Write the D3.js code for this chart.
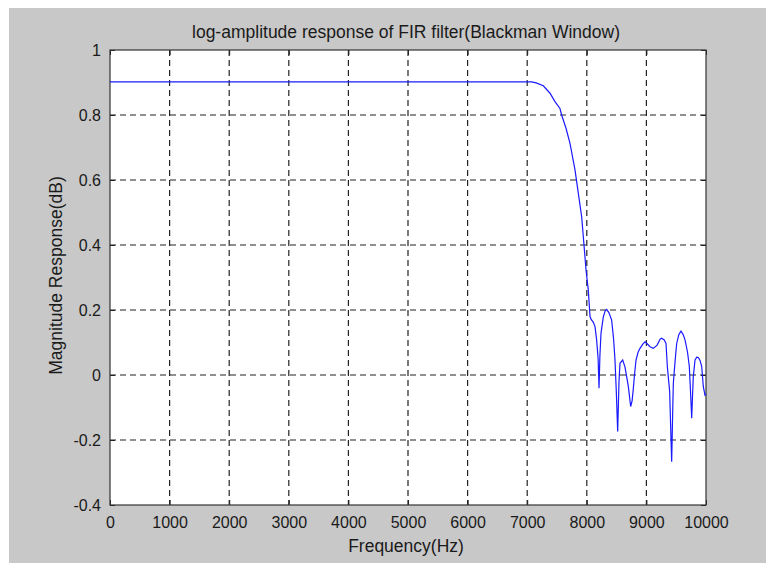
<!DOCTYPE html>
<meta charset="utf-8">
<script src="https://d3js.org/d3.v7.min.js"></script>
<style>
  body { margin: 0; background: #fff; }
  text { font-family: "Liberation Sans", Arial, sans-serif; fill: #1a1a1a; }
</style>
<div id="my_dataviz"></div>

<script>
    // frequency (Hz) and magnitude values
    var freq = [0, 7000, 7074, 7150, 7270, 7383, 7466, 7550, 7578, 7650, 7718, 7802, 7858, 7914, 7953, 7987,
        8025, 8054, 8070, 8110, 8138, 8165, 8190, 8205, 8220, 8238, 8277, 8310, 8333, 8370, 8417, 8450,
        8473, 8495, 8518, 8540, 8557, 8602, 8640, 8669, 8697, 8736, 8760, 8781, 8800, 8826, 8860, 8893,
        8940, 8977, 9010, 9060, 9116, 9180, 9230, 9256, 9300, 9329, 9351, 9390, 9424, 9445, 9452, 9469,
        9490, 9508, 9545, 9580, 9615, 9648, 9690, 9720, 9740, 9760, 9775, 9787, 9816, 9845, 9871, 9900,
        9928, 9955, 9983, 10000];
    var mag = [0.902, 0.902, 0.902, 0.899, 0.890, 0.867, 0.841, 0.820, 0.800, 0.760, 0.713, 0.631, 0.559, 0.487, 0.400, 0.323,
        0.262, 0.180, 0.172, 0.162, 0.149, 0.108, 0.050, -0.041, 0.060, 0.128, 0.179, 0.198, 0.202, 0.192, 0.169, 0.110,
        0.046, -0.050, -0.174, -0.020, 0.036, 0.046, 0.025, -0.005, -0.036, -0.097, -0.080, -0.041, 0.000, 0.046, 0.070, 0.082,
        0.095, 0.102, 0.097, 0.087, 0.082, 0.092, 0.110, 0.113, 0.108, 0.097, 0.026, -0.050, -0.267, -0.080, -0.026, 0.015,
        0.060, 0.097, 0.125, 0.135, 0.125, 0.108, 0.070, 0.026, -0.050, -0.133, -0.060, -0.005, 0.046, 0.055, 0.054, 0.045,
        0.026, -0.036, -0.062, -0.058];

    var xTicks = [0, 1000, 2000, 3000, 4000, 5000, 6000, 7000, 8000, 9000, 10000];
    var yTicks = [-0.4, -0.2, 0, 0.2, 0.4, 0.6, 0.8, 1];
    var yTickLabels = ["-0.4", "-0.2", "0", "0.2", "0.4", "0.6", "0.8", "1"];

    var W = 766, H = 563;
    var margin = { top: 50, right: 60, bottom: 58, left: 110 },
        width = W - margin.left - margin.right,
        height = H - margin.top - margin.bottom;

    var root = d3.select("#my_dataviz")
        .append("svg")
        .attr("width", W)
        .attr("height", H);

    // figure background
    root.append("rect")
        .attr("x", 9).attr("y", 8)
        .attr("width", W - 9).attr("height", H - 8)
        .attr("fill", "#c8c8c8");

    var svg = root.append("g")
        .attr("transform", "translate(" + margin.left + "," + margin.top + ")");

    svg.append("rect")
        .attr("width", width).attr("height", height)
        .attr("fill", "#fff");

    var x = d3.scaleLinear().domain([0, 10000]).range([0, width]);
    var y = d3.scaleLinear().domain([-0.4, 1]).range([height, 0]);

    // grid
    svg.selectAll("vgrid")
        .data(xTicks.slice(1, -1))
        .enter().append("line")
        .attr("x1", function (d) { return x(d); })
        .attr("x2", function (d) { return x(d); })
        .attr("y1", 0).attr("y2", height)
        .attr("stroke", "#222").attr("stroke-width", 1.2)
        .attr("stroke-dasharray", "6,4");
    svg.selectAll("hgrid")
        .data(yTicks.slice(1, -1))
        .enter().append("line")
        .attr("y1", function (d) { return y(d); })
        .attr("y2", function (d) { return y(d); })
        .attr("x1", 0).attr("x2", width)
        .attr("stroke", "#222").attr("stroke-width", 1.2)
        .attr("stroke-dasharray", "6,4");

    // axes (MATLAB style, inward ticks)
    svg.append("g")
        .attr("transform", "translate(0," + height + ")")
        .call(d3.axisBottom(x).tickValues(xTicks).tickSize(-5).tickPadding(12).tickFormat(d3.format("d")))
        .call(function (g) { g.select(".domain").remove(); })
        .selectAll("text").style("font-size", "16px");
    svg.append("g")
        .call(d3.axisLeft(y).tickValues(yTicks).tickSize(-5).tickPadding(9)
            .tickFormat(function (d, i) { return yTickLabels[i]; }))
        .call(function (g) { g.select(".domain").remove(); })
        .selectAll("text").style("font-size", "16px");
    svg.append("g")
        .call(d3.axisTop(x).tickValues(xTicks).tickSize(-5).tickFormat(""))
        .call(function (g) { g.select(".domain").remove(); });
    svg.append("g")
        .attr("transform", "translate(" + width + ",0)")
        .call(d3.axisRight(y).tickValues(yTicks).tickSize(-5).tickFormat(""))
        .call(function (g) { g.select(".domain").remove(); });
    svg.selectAll(".tick line").attr("stroke", "#222");

    svg.append("rect")
        .attr("width", width).attr("height", height)
        .attr("fill", "none")
        .attr("stroke", "#333").attr("stroke-width", 1.2);

    // response curve
    var line = d3.line()
        .x(function (d, i) { return x(freq[i]); })
        .y(function (d) { return y(d); });
    svg.append("path")
        .datum(mag)
        .attr("d", line)
        .attr("fill", "none")
        .attr("stroke", "#1a1aff")
        .attr("stroke-width", 1.2);

    // labels
    root.append("text")
        .attr("x", 406).attr("y", 38)
        .attr("text-anchor", "middle")
        .style("font-size", "17.5px")
        .text("log-amplitude response of FIR filter(Blackman Window)");
    root.append("text")
        .attr("x", 406).attr("y", 552)
        .attr("text-anchor", "middle")
        .style("font-size", "17.5px")
        .text("Frequency(Hz)");
    root.append("text")
        .attr("transform", "translate(62," + (margin.top + height / 2 - 2) + ")rotate(-90)")
        .attr("text-anchor", "middle")
        .style("font-size", "17.5px")
        .text("Magnitude Response(dB)");
</script>
